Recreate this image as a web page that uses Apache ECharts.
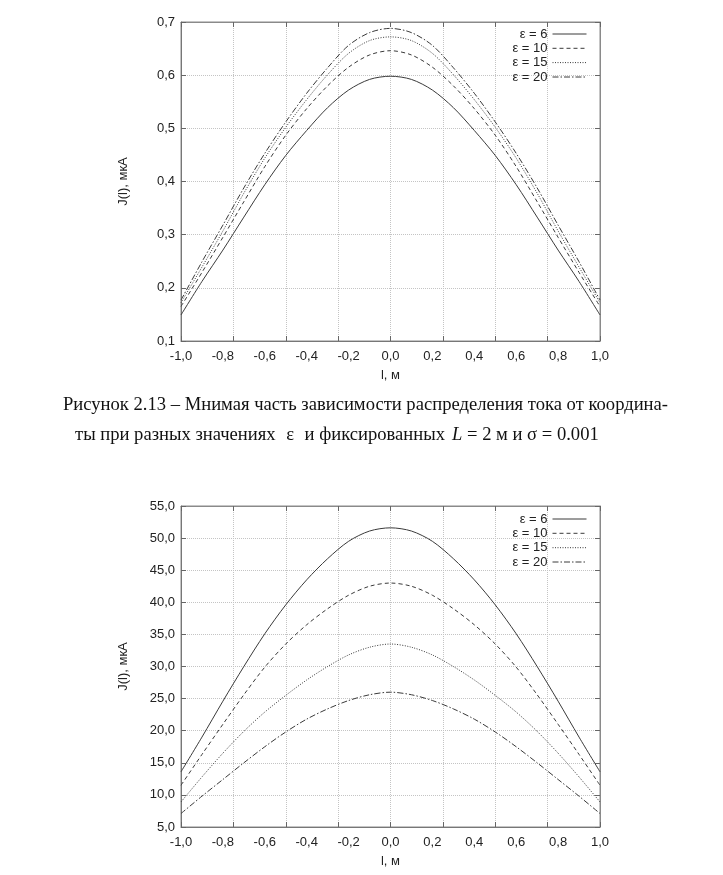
<!DOCTYPE html>
<html><head><meta charset="utf-8">
<script src="https://cdn.jsdelivr.net/npm/echarts@6/dist/echarts.min.js"></script>
<style>
html,body{margin:0;padding:0;background:#fff;}
#chart{position:absolute;left:0;top:0;width:723px;height:875px;}
.cap{position:absolute;font-family:"Liberation Serif","Times New Roman",serif;font-size:18.6px;line-height:18.6px;color:#111;white-space:nowrap;}
.just{text-align:justify;text-align-last:justify;white-space:normal;}
.row{display:flex;justify-content:space-between;}
</style></head><body>
<div id="chart"></div>
<div class="cap just" style="left:63px;top:395px;width:605px;">Рисунок 2.13 – Мнимая часть зависимости распределения тока от координа-</div>
<div class="cap row" style="left:75px;top:425px;width:370px;"><span>ты при разных значениях</span><span>ε</span><span>и фиксированных</span></div>
<div class="cap" style="left:452px;top:425px;"><i>L</i> = 2 м и σ = 0.001</div>
<script>
// x coordinate, m
const lValues = [-1.0,-0.9,-0.8,-0.7,-0.6,-0.5,-0.4,-0.3,-0.2,-0.1,0.0,0.1,0.2,0.3,0.4,0.5,0.6,0.7,0.8,0.9,1.0];
const seriesNames = ['ε = 6','ε = 10','ε = 15','ε = 20'];

// Top chart: imaginary part, мкА
const imagEps6  = [0.149,0.212,0.271,0.333,0.394,0.449,0.496,0.539,0.572,0.592,0.598,0.592,0.572,0.539,0.496,0.449,0.394,0.333,0.271,0.212,0.149];
const imagEps10 = [0.165,0.229,0.295,0.362,0.428,0.487,0.537,0.580,0.615,0.638,0.646,0.638,0.615,0.580,0.537,0.487,0.428,0.362,0.295,0.229,0.165];
const imagEps15 = [0.172,0.239,0.307,0.378,0.444,0.502,0.554,0.601,0.641,0.665,0.672,0.665,0.641,0.601,0.554,0.502,0.444,0.378,0.307,0.239,0.172];
const imagEps20 = [0.177,0.249,0.318,0.388,0.453,0.512,0.566,0.614,0.656,0.680,0.688,0.680,0.656,0.614,0.566,0.512,0.453,0.388,0.318,0.249,0.177];

// Bottom chart, мкА
const realEps6  = [13.6,19.0,24.6,30.0,35.1,39.6,43.5,46.8,49.5,51.1,51.6,51.1,49.5,46.8,43.5,39.6,35.1,30.0,24.6,19.0,13.6];
const realEps10 = [11.5,16.3,21.0,25.6,29.9,33.5,36.5,39.0,41.1,42.5,43.0,42.5,41.1,39.0,36.5,33.5,29.9,25.6,21.0,16.3,11.5];
const realEps15 = [8.9,12.8,16.5,19.9,22.9,25.5,27.9,30.0,31.8,33.0,33.5,33.0,31.8,30.0,27.9,25.5,22.9,19.9,16.5,12.8,8.9];
const realEps20 = [7.1,9.8,12.4,15.0,17.5,19.8,21.8,23.4,24.7,25.6,26.0,25.6,24.7,23.4,21.8,19.8,17.5,15.0,12.4,9.8,7.1];

// axis settings
const xRange = {min:-1, max:1, labelStep:0.2, gridStep:0.25};
const yTop = {min:0.1, max:0.7, step:0.1};
const yBottom = {min:5, max:55, step:5};

const topSets = [imagEps6, imagEps10, imagEps15, imagEps20];
const bottomSets = [realEps6, realEps10, realEps15, realEps20];
const dashStyles = ['solid', [4,3], [1,1.5], [6,2,1.5,2]];

const fmt = v => v.toFixed(1).replace('.', ',');
const FONT = '"Liberation Sans", Arial, sans-serif';
const lab = {fontFamily: FONT, fontSize: 13, color: '#222'};
const tick = {show:true, inside:true, length:5, lineStyle:{color:'#666'}};

const grids = [
  {left:181, top:22, width:419, height:319},
  {left:181, top:506, width:419, height:321}
];
const xAxes = [], yAxes = [], series = [], legends = [];
const legendTops = [[27, 41.3, 55.6, 70], [512, 526.3, 540.7, 555]];

grids.forEach((g, gi) => {
  g.show = true; g.borderColor = '#8a8a8a'; g.borderWidth = 1;
  const xBase = xAxes.length;
  xAxes.push({gridIndex:gi, type:'value', min:xRange.min, max:xRange.max, interval:xRange.labelStep, position:'bottom',
    axisLine:{show:true, onZero:false, lineStyle:{color:'#777', width:1}}, axisTick:{show:false}, splitLine:{show:false},
    axisLabel:Object.assign({formatter:fmt, margin:9, showMinLabel:true, showMaxLabel:true}, lab),
    name:'l, м', nameLocation:'middle', nameGap:28, nameTextStyle:lab});
  xAxes.push({gridIndex:gi, type:'value', min:xRange.min, max:xRange.max, interval:xRange.gridStep, position:'bottom',
    axisLine:{show:false, onZero:false}, axisLabel:{show:false}, axisTick:tick,
    splitLine:{show:true, lineStyle:{type:'dotted', color:'#c4c4c4', width:1}}});
  xAxes.push({gridIndex:gi, type:'value', min:xRange.min, max:xRange.max, interval:xRange.gridStep, position:'top',
    axisLine:{show:true, onZero:false, lineStyle:{color:'#8a8a8a'}}, axisLabel:{show:false},
    axisTick:tick, splitLine:{show:false}});
  const yr = gi === 0 ? yTop : yBottom;
  const yBase = yAxes.length;
  yAxes.push({gridIndex:gi, type:'value', min:yr.min, max:yr.max, interval:yr.step, position:'left',
    axisLine:{show:true, onZero:false, lineStyle:{color:'#777'}}, axisTick:tick,
    splitLine:{show:true, lineStyle:{type:'dotted', color:'#c4c4c4', width:1}},
    axisLabel:Object.assign({formatter:fmt, margin:6, showMinLabel:true, showMaxLabel:true}, lab),
    name:'J(l), мкА', nameLocation:'middle', nameGap:51, nameRotate:90, nameTextStyle:lab});
  yAxes.push({gridIndex:gi, type:'value', min:yr.min, max:yr.max, interval:yr.step, position:'right',
    axisLine:{show:true, onZero:false, lineStyle:{color:'#8a8a8a'}}, axisLabel:{show:false},
    axisTick:tick, splitLine:{show:false}});
  const sets = gi === 0 ? topSets : bottomSets;
  sets.forEach((vals, si) => {
    series.push({type:'line', name:seriesNames[si], xAxisIndex:xBase, yAxisIndex:yBase,
      data: lValues.map((x, i) => [x, vals[i]]), showSymbol:false, symbol:'none', smooth:0.3,
      itemStyle:{color:'#3a3a3a'},
      lineStyle:{color:'#3a3a3a', width:1, type:dashStyles[si]}, silent:true});
    legends.push({right:136, top:legendTops[gi][si], orient:'horizontal', align:'right', padding:0,
      itemWidth:34, itemHeight:14, selectedMode:false, data:[seriesNames[si]],
      itemStyle:{opacity:0}, lineStyle:{color:'#3a3a3a', width:1},
      textStyle:Object.assign({lineHeight:14}, lab)});
  });
});

const chart = echarts.init(document.getElementById('chart'), null, {renderer:'canvas'});
chart.setOption({backgroundColor:'#fff', animation:false, grid:grids, xAxis:xAxes, yAxis:yAxes, series:series, legend:legends});
</script>
</body></html>
